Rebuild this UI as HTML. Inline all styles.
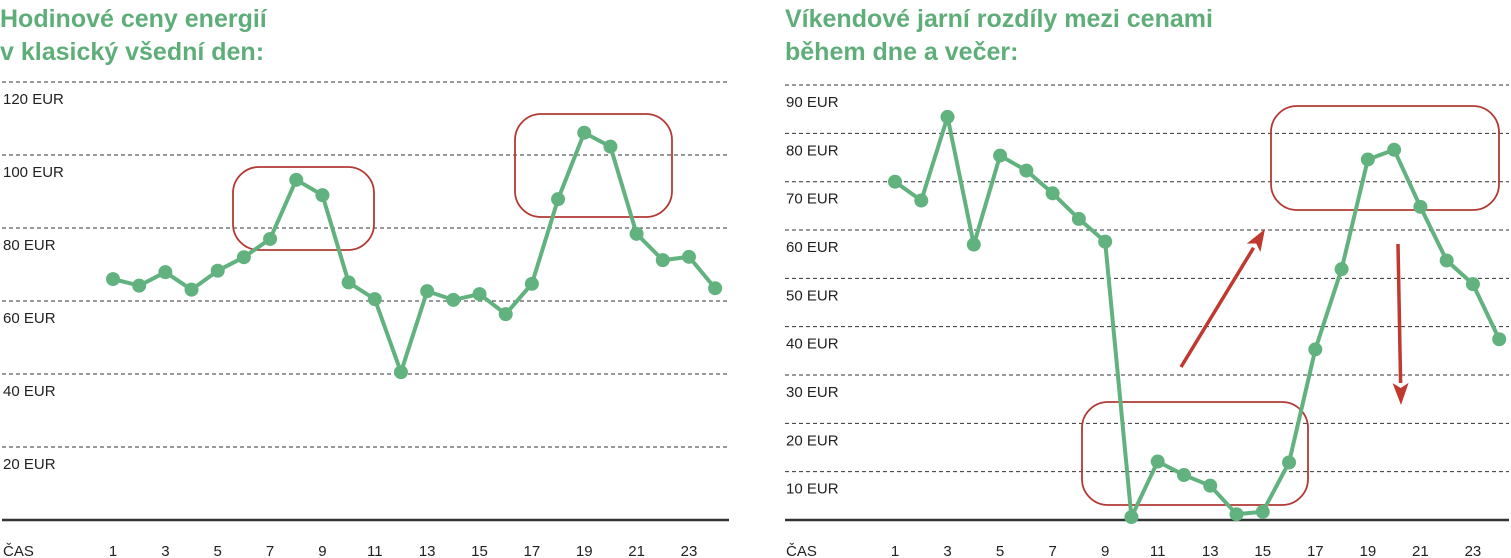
<!DOCTYPE html>
<html><head><meta charset="utf-8"><style>
html,body{margin:0;padding:0;background:#fff;}
svg{display:block;}
.t{font-family:"Liberation Sans",sans-serif;font-weight:bold;font-size:25px;fill:#5fae7a;}
.lab{font-family:"Liberation Sans Narrow","Liberation Sans",sans-serif;font-size:15px;fill:#222;}
</style></head><body>
<svg id="c" width="1511" height="558" viewBox="0 0 1511 558" xmlns="http://www.w3.org/2000/svg">
<text class="t" x="0" y="27">Hodinové ceny energií</text>
<text class="t" x="0" y="60">v klasický všední den:</text>
<text class="t" x="785" y="27">Víkendové jarní rozdíly mezi cenami</text>
<text class="t" x="785" y="60">během dne a večer:</text>
</svg>
<script>
const hours = [1,2,3,4,5,6,7,8,9,10,11,12,13,14,15,16,17,18,19,20,21,22,23,24];
const xTickLabels = ["1","3","5","7","9","11","13","15","17","19","21","23"];
const leftValues = [66.0,64.2,67.9,63.1,68.3,72.0,77.0,93.2,89.0,65.1,60.5,40.5,62.7,60.3,61.9,56.4,64.7,87.9,106.1,102.3,78.4,71.2,72.1,63.5];
const leftTicks = [20,40,60,80,100,120];
const rightValues = [70.0,66.1,83.4,57.0,75.4,72.3,67.6,62.3,57.6,0.6,12.1,9.3,7.1,1.2,1.7,11.9,35.3,51.9,74.6,76.6,64.8,53.7,48.8,37.4];
const rightTicks = [10,20,30,40,50,60,70,80,90];

const svg = document.getElementById('c');
const NS = 'http://www.w3.org/2000/svg';
function mk(tag, attrs){const e=document.createElementNS(NS,tag);for(const k in attrs)e.setAttribute(k,attrs[k]);svg.appendChild(e);return e;}

function drawChart(p){
  const base = 520;
  const x = h => p.x0 + (h-1)*p.step;
  const y = v => base - v*p.pxPer;
  p.ticks.forEach(t=>{
    const ln = mk('line',{x1:p.gx1,x2:p.gx2,y1:y(t),y2:y(t),stroke:'#333','stroke-width':1,'stroke-dasharray':'4,3'});
    
    
    const tx = mk('text',{x:p.gx1+1,y:y(t)+22,class:'lab'});
    tx.textContent = t+' EUR';
    
    
  });
  const b = mk('line',{x1:p.gx1,x2:p.gx2,y1:base,y2:base,stroke:'#333','stroke-width':2.5});
  
  
  const cas = mk('text',{x:p.gx1+1,y:556,class:'lab'});
  cas.textContent='ČAS';
  
  
  xTickLabels.forEach(l=>{
    const tx = mk('text',{x:x(+l),y:556,class:'lab','text-anchor':'middle'});
    tx.textContent=l;
    
    
  });
  p.boxes.forEach((bx,i)=>{
    const r = mk('rect',{x:bx[0],y:bx[1],width:bx[2]-bx[0],height:bx[3]-bx[1],rx:26,fill:'none',stroke:'#b23a35','stroke-width':1.8});
    
    
  });
  const pts = hours.map((h,i)=>x(h)+','+y(p.values[i])).join(' ');
  const pl = mk('polyline',{points:pts,fill:'none',stroke:'#62b27f','stroke-width':4,'stroke-linejoin':'round'});
  
  
  hours.forEach((h,i)=>{
    const c = mk('circle',{cx:x(h),cy:y(p.values[i]),r:7,fill:'#62b27f'});
    
    
  });
}

drawChart({id:'left',x0:113,step:26.18,pxPer:3.65,gx1:2,gx2:729,ticks:leftTicks,values:leftValues,
  boxes:[[233,167,374,250],[515,114,672,217]]});
drawChart({id:'right',x0:895,step:26.27,pxPer:4.833,gx1:785,gx2:1509,ticks:rightTicks,values:rightValues,
  boxes:[[1082,402,1308,505],[1271,106,1499,210]]});

function arrow(x1,y1,x2,y2,name){
  const dx=x2-x1, dy=y2-y1, L=Math.hypot(dx,dy), ux=dx/L, uy=dy/L;
  const hl=22, hw=8;
  const bx=x2-ux*hl, by=y2-uy*hl;
  const g = mk('g',{});
  
  
  const l = document.createElementNS(NS,'line');
  l.setAttribute('x1',x1);l.setAttribute('y1',y1);l.setAttribute('x2',bx);l.setAttribute('y2',by);
  l.setAttribute('stroke','#c0392f');l.setAttribute('stroke-width',3.5);
  g.appendChild(l);
  const h = document.createElementNS(NS,'polygon');
  h.setAttribute('points',`${x2},${y2} ${bx-uy*hw},${by+ux*hw} ${bx+ux*5},${by+uy*5} ${bx+uy*hw},${by-ux*hw}`);
  h.setAttribute('fill','#c0392f');
  g.appendChild(h);
}
arrow(1181,367,1265,229,'up-arrow');
arrow(1398,244,1401,405,'down-arrow');
</script>
</body></html>
